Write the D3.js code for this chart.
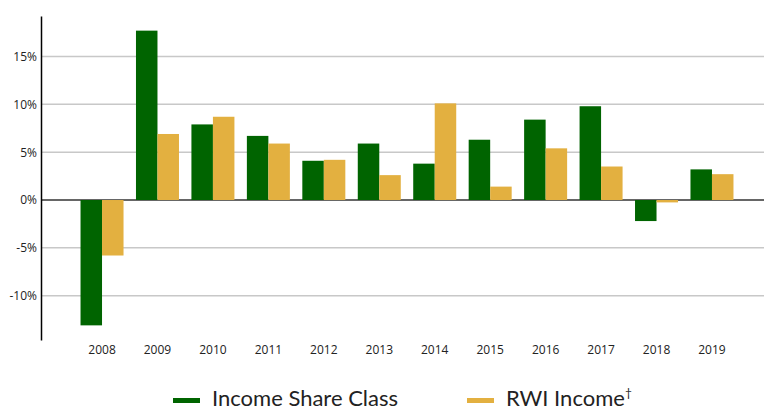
<!DOCTYPE html>
<html>
<head>
<meta charset="utf-8">
<script src="https://cdn.jsdelivr.net/npm/d3@7"></script>
<style>
  body { margin: 0; background: #fff; }
  svg { display: block; }
</style>
</head>
<body>
<div id="chartDiv"></div>
<script>
// yearly returns, in percent
var years = ["2008","2009","2010","2011","2012","2013","2014","2015","2016","2017","2018","2019"];
var incomeShare = [-13.1, 17.7, 7.9, 6.7, 4.1, 5.9, 3.8, 6.3, 8.4, 9.8, -2.2, 3.2];
var rwiIncome = [-5.8, 6.9, 8.7, 5.9, 4.2, 2.6, 10.1, 1.4, 5.4, 3.5, -0.25, 2.7];
var yTicks = [-10, -5, 0, 5, 10, 15];
var seriesNames = ["Income Share Class", "RWI Income"];

var width = 764,
    height = 410;

var green = "#006400",
    gold = "#e3b040";

var svg = d3.select("#chartDiv")
    .append("svg")
    .attr("width", width)
    .attr("height", height);

var y = d3.scaleLinear()
    .domain([-14.63, 19.23])
    .range([340, 16]);

var x = d3.scaleBand()
    .domain(years)
    .range([74.3, 739.7])
    .paddingInner(0.2245)
    .paddingOuter(0.1123);

var xs = d3.scaleBand()
    .domain(seriesNames)
    .range([0, x.bandwidth()]);

// gridlines
svg.append("g")
    .selectAll("line")
    .data(yTicks.filter(function (d) { return d !== 0; }))
    .enter().append("line")
    .attr("x1", 41)
    .attr("x2", width)
    .attr("y1", function (d) { return y(d); })
    .attr("y2", function (d) { return y(d); })
    .style("stroke", "#c8c8c8")
    .style("stroke-width", 1.5);

// zero line
svg.append("line")
    .attr("x1", 41)
    .attr("x2", width)
    .attr("y1", y(0))
    .attr("y2", y(0))
    .style("stroke", "#666")
    .style("stroke-width", 2);

// bars
var groups = svg.append("g")
    .selectAll("g")
    .data(years)
    .enter().append("g")
    .attr("transform", function (d) { return "translate(" + x(d) + ",0)"; });

groups.append("rect")
    .attr("x", xs(seriesNames[0]))
    .attr("width", xs.bandwidth())
    .attr("y", function (d, i) { return y(Math.max(0, incomeShare[i])); })
    .attr("height", function (d, i) { return Math.abs(y(incomeShare[i]) - y(0)); })
    .style("fill", green);

groups.append("rect")
    .attr("x", xs(seriesNames[1]))
    .attr("width", xs.bandwidth())
    .attr("y", function (d, i) { return y(Math.max(0, rwiIncome[i])); })
    .attr("height", function (d, i) { return Math.abs(y(rwiIncome[i]) - y(0)); })
    .style("fill", gold);

// y axis
var yAxis = svg.append("g")
    .attr("transform", "translate(41,0)")
    .call(d3.axisLeft(y)
        .tickValues(yTicks)
        .tickSize(0)
        .tickPadding(4)
        .tickFormat(function (d) { return d + "%"; }));
yAxis.select(".domain")
    .style("stroke", "#000")
    .style("stroke-width", 1.5);
yAxis.selectAll("text")
    .style("font-family", "'Open Sans'")
    .style("font-size", "12px")
    .style("fill", "#222");

// x axis labels
var xAxis = svg.append("g")
    .attr("transform", "translate(0,345)")
    .call(d3.axisBottom(x).tickSize(0).tickPadding(0));
xAxis.select(".domain").remove();
xAxis.selectAll("text")
    .style("font-family", "'Open Sans'")
    .style("font-size", "12px")
    .style("fill", "#222");

// legend
var legend = svg.append("g");
var legendItems = [
    { name: seriesNames[0], color: green, x: 173 },
    { name: seriesNames[1], color: gold, x: 467 }
];
var item = legend.selectAll("g")
    .data(legendItems)
    .enter().append("g")
    .attr("transform", function (d) { return "translate(" + d.x + ",0)"; });
item.append("rect")
    .attr("x", 0)
    .attr("y", 398)
    .attr("width", 27)
    .attr("height", 5)
    .style("fill", function (d) { return d.color; });
var label = item.append("text")
    .attr("x", 39)
    .attr("y", 406)
    .style("font-family", "Lato")
    .style("font-size", "22px")
    .style("fill", "#222")
    .text(function (d) { return d.name; });
label.filter(function (d, i) { return i === 1; })
    .append("tspan")
    .attr("dy", -9)
    .style("font-size", "12px")
    .text("†");
</script>
</body>
</html>
